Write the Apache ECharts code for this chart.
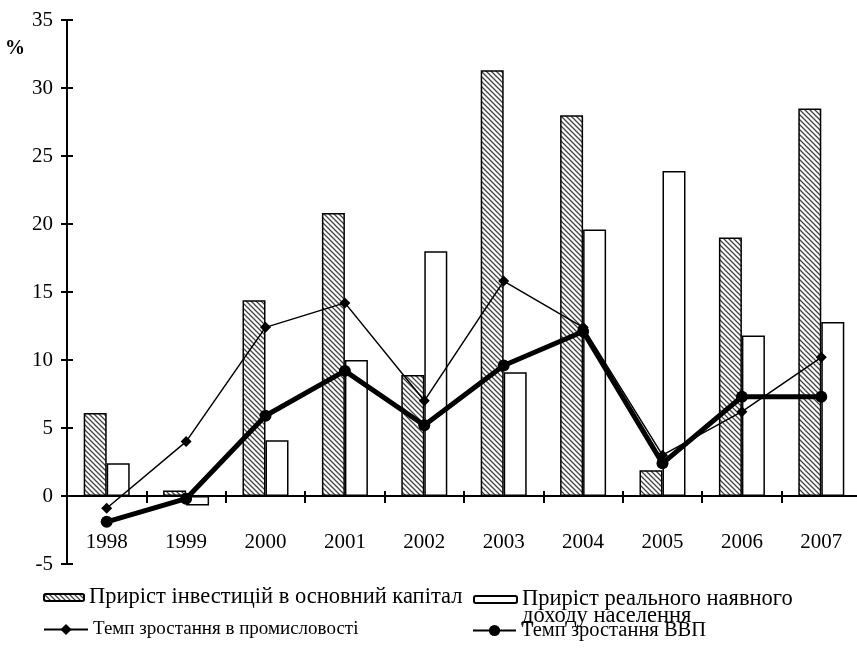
<!DOCTYPE html>
<html><head><meta charset="utf-8">
<script src="https://cdn.jsdelivr.net/npm/echarts@6/dist/echarts.min.js"></script>
<style>html,body{margin:0;padding:0;background:#fff}#c{width:857px;height:653px}</style>
</head><body><div id="c"></div>
<script>
const years = ['1998','1999','2000','2001','2002','2003','2004','2005','2006','2007'];
const investment = [6.1, 0.4, 14.4, 20.8, 8.9, 31.3, 28.0, 1.9, 19.0, 28.5];
const income = [2.4, -0.7, 4.1, 10.0, 18.0, 9.1, 19.6, 23.9, 11.8, 12.8];
const industry = [-0.9, 4.0, 12.4, 14.2, 7.0, 15.8, 12.4, 3.0, 6.2, 10.2];
const gdp = [-1.9, -0.2, 5.9, 9.2, 5.2, 9.6, 12.1, 2.4, 7.3, 7.3];
const names = ['Приріст інвестицій в основний капітал', 'Приріст реального наявного доходу населення', 'Темп зростання в промисловості', 'Темп зростання ВВП'];

const FONT = '"Liberation Serif", "DejaVu Serif", serif';

// hatch pattern
const pc = document.createElement('canvas');
pc.width = 5; pc.height = 5;
const g = pc.getContext('2d');
g.fillStyle = '#fff'; g.fillRect(0,0,5,5);
g.strokeStyle = '#444'; g.lineWidth = 1.3;
g.beginPath();
g.moveTo(-1,-1); g.lineTo(6,6);
g.moveTo(-1,4); g.lineTo(1,6);
g.moveTo(4,-1); g.lineTo(6,1);
g.stroke();
const hatch = {image: pc, repeat: 'repeat'};

const chart = echarts.init(document.getElementById('c'), null, {renderer: 'canvas'});
const axisLineStyle = {color: '#000', width: 2};
const lt = (size, extra) => Object.assign({fontFamily: FONT, fontSize: size, color: '#000'}, extra || {});
chart.setOption({
  animation: false,
  backgroundColor: '#fff',
  grid: {left: 67, top: 20, right: -4, bottom: 89, containLabel: false, outerBoundsMode: 'none'},
  xAxis: [{
    type: 'category', data: years,
    axisLine: {onZero: true, lineStyle: axisLineStyle},
    axisTick: {show: true, length: 7, lineStyle: axisLineStyle},
    axisLabel: {margin: -32, fontFamily: FONT, fontSize: 21, color: '#000'},
    splitLine: {show: false}
  }, {
    type: 'category', data: years, position: 'bottom',
    axisLine: {show: false, onZero: true},
    axisTick: {show: true, inside: true, length: 5, lineStyle: axisLineStyle},
    axisLabel: {show: false}, splitLine: {show: false}
  }],
  yAxis: [{
    type: 'value', min: -5, max: 35, interval: 5, position: 'left',
    name: '%', nameLocation: 'end', nameGap: -29,
    nameTextStyle: {fontFamily: FONT, fontSize: 20, fontWeight: 'bold', color: '#000', align: 'right', verticalAlign: 'middle', padding: [0, 42, 0, 0]},
    axisLine: {show: true, lineStyle: axisLineStyle},
    axisTick: {show: true, length: 6, lineStyle: axisLineStyle},
    axisLabel: {margin: 14, fontFamily: FONT, fontSize: 21, color: '#000'},
    splitLine: {show: false}
  }, {
    type: 'value', min: -5, max: 35, interval: 5, position: 'left',
    axisLine: {show: false},
    axisTick: {show: true, inside: true, length: 6, lineStyle: axisLineStyle},
    axisLabel: {show: false}, splitLine: {show: false}
  }],
  legend: [
    {data: [names[0]], left: 43, top: 586, padding: 0, itemWidth: 40, itemHeight: 7, textStyle: lt(22.5)},
    {data: [names[1]], left: 473, top: 571, padding: 0, itemWidth: 43, itemHeight: 7,
      formatter: () => '\nПриріст реального наявного\nдоходу населення',
      textStyle: lt(22.5, {lineHeight: 17})},
    {data: [names[2]], left: 43, top: 620, padding: 0, itemWidth: 44, itemHeight: 14, textStyle: lt(19)},
    {data: [names[3]], left: 472, top: 620, padding: 0, itemWidth: 43, itemHeight: 14, textStyle: lt(20.5)}
  ],
  series: [
    {name: names[0], type: 'bar', data: investment, barWidth: 23, barGap: '0%',
      itemStyle: {color: hatch, borderColor: '#000', borderWidth: 1.5}},
    {name: names[1], type: 'bar', data: income, barWidth: 23, barGap: '0%',
      itemStyle: {color: '#fff', borderColor: '#000', borderWidth: 1.5}},
    {name: names[2], type: 'line', data: industry, symbol: 'diamond', symbolSize: 11,
      lineStyle: {color: '#000', width: 1.5}, itemStyle: {color: '#000'}, z: 3},
    {name: names[3], type: 'line', data: gdp, symbol: 'circle', symbolSize: 12,
      lineStyle: {color: '#000', width: 5}, itemStyle: {color: '#000'}, z: 4}
  ]
});
</script></body></html>
